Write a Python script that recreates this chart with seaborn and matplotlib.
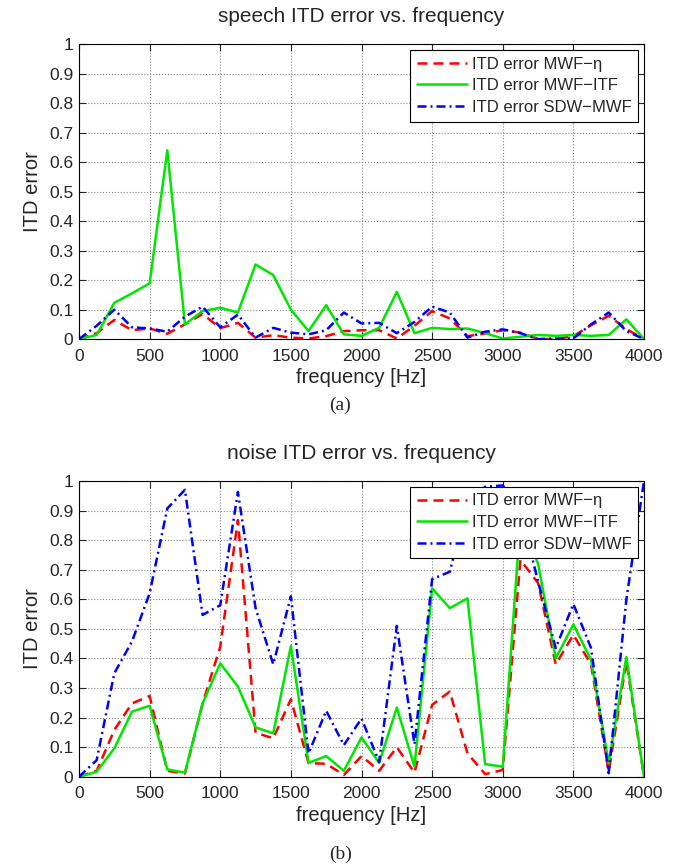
import pandas as pd
import matplotlib
matplotlib.use("Agg")
import matplotlib.pyplot as plt
import seaborn as sns

# frequency grid (Hz)
freq = [0, 125, 250, 375, 500, 625, 750, 875, 1000, 1125, 1250, 1375, 1500,
        1625, 1750, 1875, 2000, 2125, 2250, 2375, 2500, 2625, 2750, 2875,
        3000, 3125, 3250, 3375, 3500, 3625, 3750, 3875, 4000]

labels = ["ITD error MWF\u2212\u03b7", "ITD error MWF\u2212ITF", "ITD error SDW\u2212MWF"]

# (a) speech
speech_mwf_eta = [0, 0.02, 0.065, 0.03, 0.036, 0.018, 0.05, 0.085, 0.037, 0.055, 0.005,
                  0.013, 0.005, 0.002, 0.01, 0.027, 0.03, 0.03, 0.002, 0.045, 0.095,
                  0.07, 0.01, 0.019, 0.03, 0.022, 0, 0, 0.01, 0.047, 0.079, 0.034, 0]
speech_mwf_itf = [0, 0.014, 0.123, 0.155, 0.189, 0.64, 0.05, 0.095, 0.106, 0.09, 0.253,
                  0.217, 0.1, 0.027, 0.115, 0.016, 0.011, 0.038, 0.16, 0.02, 0.038,
                  0.034, 0.036, 0.02, 0.002, 0.008, 0.014, 0.011, 0.014, 0.011, 0.014,
                  0.067, 0]
speech_sdw_mwf = [0, 0.045, 0.1, 0.04, 0.036, 0.025, 0.076, 0.11, 0.04, 0.083, 0.005,
                  0.038, 0.022, 0.016, 0.03, 0.09, 0.053, 0.055, 0.02, 0.058, 0.11,
                  0.09, 0.005, 0.025, 0.033, 0.02, 0, 0.002, 0.002, 0.05, 0.09, 0.027, 0]

# (b) noise
noise_mwf_eta = [0, 0.02, 0.158, 0.248, 0.273, 0.02, 0.011, 0.248, 0.44, 0.868, 0.149,
                 0.13, 0.262, 0.046, 0.044, 0.006, 0.07, 0.02, 0.1, 0.014, 0.243,
                 0.288, 0.079, 0.009, 0.023, 0.733, 0.655, 0.38, 0.48, 0.38, 0.017,
                 0.39, 0]
noise_mwf_itf = [0, 0.017, 0.096, 0.22, 0.24, 0.025, 0.014, 0.248, 0.383, 0.305, 0.167,
                 0.147, 0.442, 0.047, 0.07, 0.02, 0.133, 0.047, 0.234, 0.034, 0.637,
                 0.57, 0.603, 0.043, 0.034, 0.87, 0.72, 0.40, 0.515, 0.395, 0.046,
                 0.405, 0]
noise_sdw_mwf = [0, 0.056, 0.35, 0.457, 0.62, 0.907, 0.97, 0.547, 0.58, 0.963, 0.57,
                 0.38, 0.61, 0.079, 0.223, 0.107, 0.197, 0.05, 0.51, 0.11, 0.668,
                 0.693, 0.93, 0.98, 0.985, 0.9, 0.66, 0.435, 0.584, 0.435, 0.012,
                 0.6, 1.0]

palette = {labels[0]: "#ff0000", labels[1]: "#00e600", labels[2]: "#0000ff"}
dashes = {labels[0]: (4, 2.4), labels[1]: "", labels[2]: (3.6, 1.6, 0.8, 1.6)}

sns.set_style("ticks")
plt.rcParams["font.family"] = ["Liberation Sans", "DejaVu Sans"]

fig = plt.figure(figsize=(6.81, 8.65), dpi=100)
ax_a = fig.add_axes([0.116, 0.608, 0.8297, 0.341])
ax_b = fig.add_axes([0.116, 0.102, 0.8297, 0.342])


def draw(ax, red, green, blue, title):
    df = pd.DataFrame({
        "frequency": freq * 3,
        "error": red + green + blue,
        "method": [labels[0]] * len(freq) + [labels[1]] * len(freq) + [labels[2]] * len(freq),
    })
    sns.lineplot(data=df, x="frequency", y="error", hue="method", style="method",
                 palette=palette, dashes=dashes, linewidth=1.8, estimator=None,
                 ax=ax)
    ax.set_xlim(0, 4000)
    ax.set_ylim(0, 1)
    ax.set_xticks(range(0, 4001, 500))
    ax.set_yticks([i / 10 for i in range(11)])
    ax.set_yticklabels(["0", "0.1", "0.2", "0.3", "0.4", "0.5", "0.6", "0.7",
                        "0.8", "0.9", "1"])
    ax.grid(True, linestyle=":", color="#888888", linewidth=0.8)
    ax.tick_params(direction="in", top=True, right=True, length=5,
                   labelsize=12.5)
    ax.tick_params(axis="x", pad=7)
    ax.tick_params(axis="y", pad=4)
    for s in ax.spines.values():
        s.set_visible(True)
        s.set_color("black")
        s.set_linewidth(0.8)
    ax.set_title(title, fontsize=15, pad=16)
    ax.set_xlabel("frequency [Hz]", fontsize=14.5, labelpad=3)
    ax.set_ylabel("ITD error", fontsize=14.5, labelpad=5)
    sns.move_legend(ax, "upper right", title=None, frameon=True, fancybox=False,
                    edgecolor="black", framealpha=1, fontsize=12,
                    handlelength=3.0, borderaxespad=0.35, borderpad=0.4,
                    labelspacing=0.4, handletextpad=0.3)
    ax.get_legend().get_frame().set_linewidth(0.8)


draw(ax_a, speech_mwf_eta, speech_mwf_itf, speech_sdw_mwf,
     "speech ITD error vs. frequency")
draw(ax_b, noise_mwf_eta, noise_mwf_itf, noise_sdw_mwf,
     "noise ITD error vs. frequency")

fig.text(0.5, 0.531, "(a)", ha="center", va="center", fontsize=14,
         family="Liberation Serif")
fig.text(0.5, 0.012, "(b)", ha="center", va="center", fontsize=14,
         family="Liberation Serif")

fig.savefig("out.png", dpi=100)
